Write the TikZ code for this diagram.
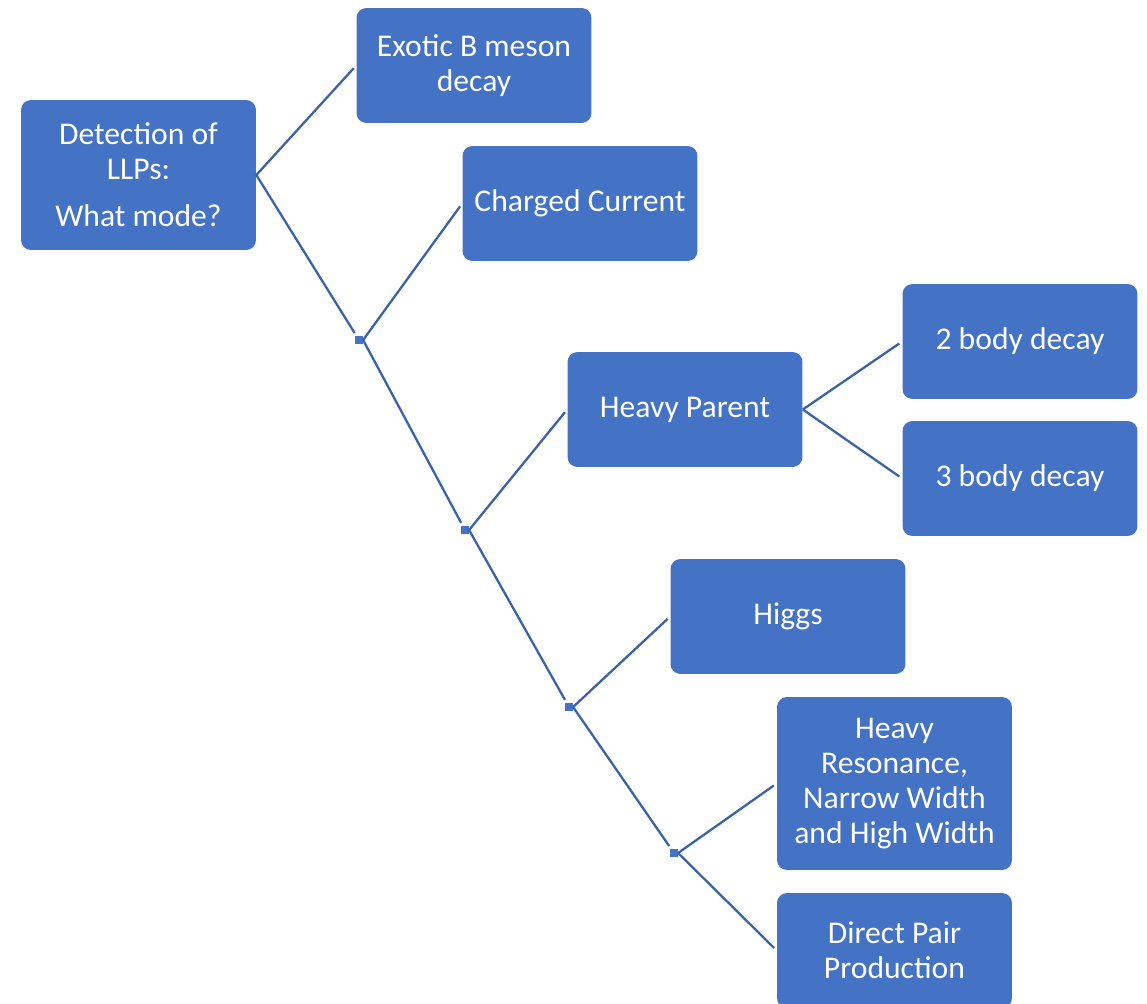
\documentclass[tikz,border=0pt]{standalone}
\usepackage{fontspec}
\setmainfont{Carlito}
\usetikzlibrary{positioning}
\definecolor{boxblue}{HTML}{4472C4}
\definecolor{lineblue}{HTML}{3A62A8}

\begin{document}
\begin{tikzpicture}[
  x=0.02cm, y=-0.02cm,
  font=\fontsize{18}{19.8}\selectfont,
  mode/.style={fill=boxblue, rectangle, rounded corners=0.2cm, text=white, align=center, minimum width=4.7cm, minimum height=2.3cm, inner sep=2pt},
  joint/.style={fill=boxblue, rectangle, inner sep=0pt, minimum size=0.15cm},
  branch/.style={draw=lineblue, line width=1.3pt, shorten >=0.07cm}
]
\useasboundingbox (0,0) rectangle (1147,1004);

\node[mode, minimum height=3cm] (llp) at (138.5,175) {Detection of\\LLPs:\\[0.4em]What mode?};
\node[mode] (bmeson) at (474,65.5) {Exotic B meson\\decay};
\node[mode] (cc) at (580,203.5) {Charged Current};
\node[mode] (heavy) at (685,409.5) {Heavy Parent};
\node[mode] (twobody) at (1020,341.5) {2 body decay};
\node[mode] (threebody) at (1020,478.5) {3 body decay};
\node[mode] (higgs) at (788,616.5) {Higgs};
\node[mode, minimum height=3.46cm] (reson) at (894.5,783.5) {Heavy\\Resonance,\\Narrow Width\\and High Width};
\node[mode] (pair) at (894.5,950.5) {Direct Pair\\Production};

% branch points
\node[joint] (j1) at (359,340) {};
\node[joint] (j2) at (465,530) {};
\node[joint] (j3) at (569,707) {};
\node[joint] (j4) at (674,853) {};

\draw[branch] (llp.east) -- (bmeson.west);
\draw[branch] (llp.east) -- (j1);
\draw[branch] (j1.east) -- (cc.west);
\draw[branch] (j1.east) -- (j2);
\draw[branch] (j2.east) -- (heavy.west);
\draw[branch] (j2.east) -- (j3);
\draw[branch] (heavy.east) -- (twobody.west);
\draw[branch] (heavy.east) -- (threebody.west);
\draw[branch] (j3.east) -- (higgs.west);
\draw[branch] (j3.east) -- (j4);
\draw[branch] (j4.east) -- (reson.west);
\draw[branch] (j4.east) -- (pair.west);
\end{tikzpicture}
\end{document}
